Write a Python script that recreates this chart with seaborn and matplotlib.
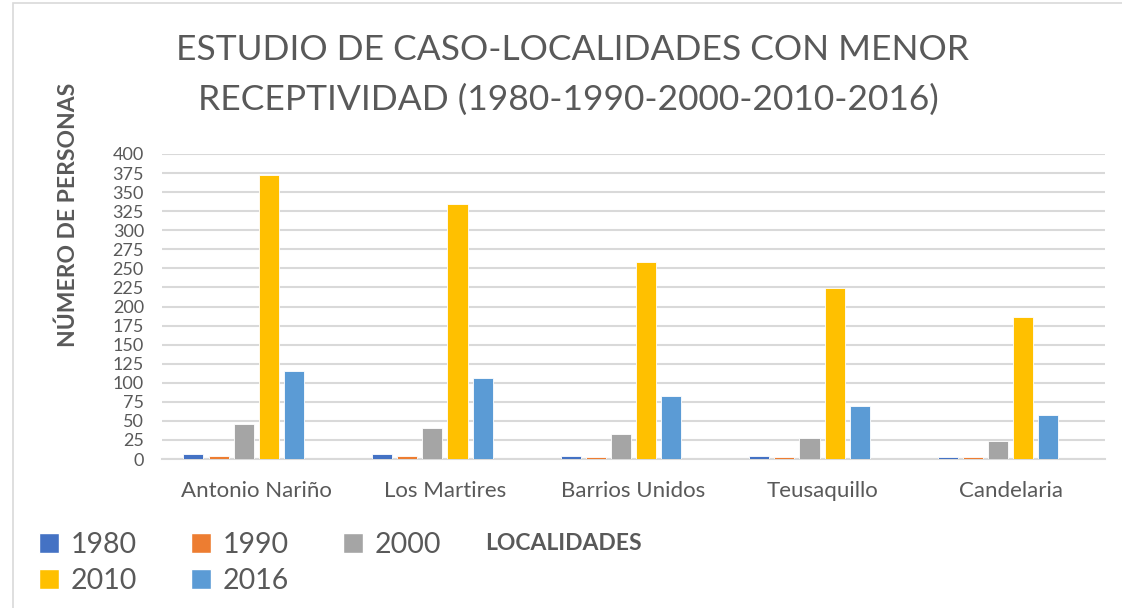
import matplotlib
matplotlib.use("Agg")
import matplotlib.pyplot as plt
import seaborn as sns
import pandas as pd
from matplotlib import font_manager
from matplotlib.patches import Patch, Rectangle

localidades = ["Antonio Nariño", "Los Martires", "Barrios Unidos", "Teusaquillo", "Candelaria"]
years = ["1980", "1990", "2000", "2010", "2016"]
v1980 = [6, 6, 4, 4, 3]
v1990 = [4, 4, 3, 3, 3]
v2000 = [46, 41, 33, 28, 23]
v2010 = [372, 334, 258, 224, 186]
v2016 = [116, 106, 82, 70, 58]
colors = ["#4472C4", "#ED7D31", "#A5A5A5", "#FFC000", "#5B9BD5"]
y_ticks = list(range(0, 401, 25))

rows = []
for yr, vals in zip(years, [v1980, v1990, v2000, v2010, v2016]):
    for loc, v in zip(localidades, vals):
        rows.append({"localidad": loc, "anio": yr, "personas": v})
df = pd.DataFrame(rows)

sns.set_style("white")
names = {f.name for f in font_manager.fontManager.ttflist}
font = "Liberation Sans Narrow" if "Liberation Sans Narrow" in names else "Lato"
plt.rcParams["font.family"] = [font, "DejaVu Sans"]
txt = "#595959"

fig = plt.figure(figsize=(11.22, 6.08), dpi=100)
ax = fig.add_axes([162 / 1122, 1 - 459 / 608, 943 / 1122, 305 / 608])

# empty sixth slot like the excel chart, so the bars sit left of the label
hue_order = years + ["_blank"]
palette = dict(zip(years, colors))
palette["_blank"] = "white"
sns.barplot(data=df, x="localidad", y="personas", hue="anio", hue_order=hue_order,
            palette=palette, width=0.8, gap=0.2, legend=False, ax=ax,
            order=localidades, saturation=1, errorbar=None,
            edgecolor="white", linewidth=0.6)
for p in ax.patches:
    p.set_zorder(3)

ax.set_ylim(0, 400)
ax.set_yticks(y_ticks)
ax.yaxis.grid(True, color="#D9D9D9", linewidth=1.5)
ax.set_axisbelow(True)
for s in ["top", "right", "left"]:
    ax.spines[s].set_visible(False)
ax.spines["bottom"].set_color("#D9D9D9")
ax.spines["bottom"].set_linewidth(1.5)
ax.spines["bottom"].set_zorder(1)
ax.tick_params(axis="both", length=0, colors=txt)
ax.tick_params(axis="x", pad=16, labelsize=16)
ax.tick_params(axis="y", pad=13, labelsize=13)
ax.set_xlabel("")
ax.set_ylabel("")

fig.text(573 / 1122, 1 - 50 / 608, "ESTUDIO DE CASO-LOCALIDADES CON MENOR",
         ha="center", va="center", fontsize=25.5, color=txt)
fig.text(568 / 1122, 1 - 100 / 608, "RECEPTIVIDAD (1980-1990-2000-2010-2016)",
         ha="center", va="center", fontsize=25.5, color=txt)
fig.text(68 / 1122, 1 - 215 / 608, "NÚMERO DE PERSONAS", rotation=90,
         ha="center", va="center", fontsize=16.5, fontweight="bold", color=txt)
fig.text(485 / 1122, 1 - 543 / 608, "LOCALIDADES", ha="left", va="center",
         fontsize=16.5, fontweight="bold", color=txt)

handles = [Patch(facecolor=c, label=y) for y, c in zip(years, colors)]
order = [0, 3, 1, 4, 2]
fig.legend([handles[i] for i in order], [years[i] for i in order], ncol=3,
           loc="upper left", bbox_to_anchor=(28 / 1122, 1 - 521 / 608),
           frameon=False, fontsize=20.5, labelcolor=txt, handlelength=0.7,
           handleheight=0.7, handletextpad=0.4, columnspacing=1.9,
           labelspacing=0.35, borderaxespad=0)

fig.patches.append(Rectangle((13 / 1122, -0.01), 1.0, 1 - 3 / 608 + 0.01,
                             transform=fig.transFigure, fill=False,
                             edgecolor="#D9D9D9", linewidth=1.2))

fig.savefig("out.png", dpi=100, facecolor="white")
